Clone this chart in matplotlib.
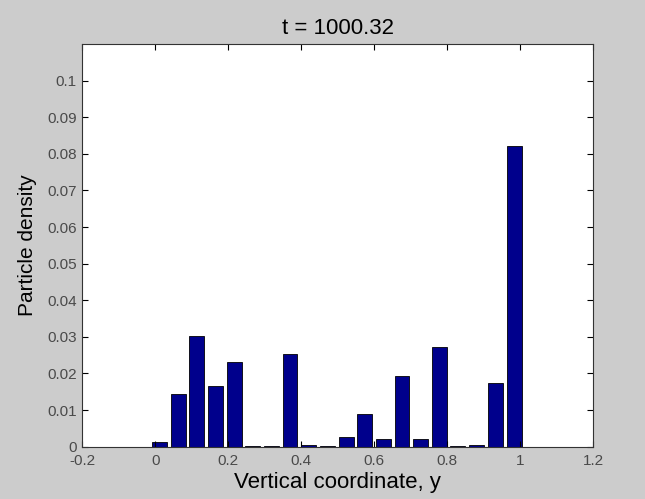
import matplotlib
matplotlib.use("Agg")
import matplotlib.pyplot as plt
import numpy as np

# bin centres along the vertical coordinate and the density in each bin
bin_centers = [0.012, 0.063, 0.114, 0.165, 0.216, 0.267, 0.318, 0.369, 0.420, 0.471,
               0.523, 0.574, 0.625, 0.676, 0.727, 0.778, 0.829, 0.880, 0.931, 0.983]
density = [0.0012, 0.0144, 0.0303, 0.0167, 0.0231, 0.0002, 0.0002, 0.0253, 0.0005, 0.0002,
           0.0026, 0.0090, 0.0022, 0.0193, 0.0022, 0.0273, 0.0002, 0.0005, 0.0174, 0.0821]

x_ticks = [-0.2, 0, 0.2, 0.4, 0.6, 0.8, 1, 1.2]
x_tick_labels = ["-0.2", "0", "0.2", "0.4", "0.6", "0.8", "1", "1.2"]
y_ticks = [0, 0.01, 0.02, 0.03, 0.04, 0.05, 0.06, 0.07, 0.08, 0.09, 0.1]
y_tick_labels = ["0", "0.01", "0.02", "0.03", "0.04", "0.05", "0.06", "0.07", "0.08", "0.09", "0.1"]

plt.rcParams['font.family'] = ['Liberation Sans', 'DejaVu Sans']

fig = plt.figure(figsize=(6.45, 4.99), dpi=100, facecolor='#cccccc')
ax = fig.add_axes([0.1276, 0.1048, 0.7922, 0.807])
ax.set_facecolor('white')

step = bin_centers[1] - bin_centers[0]
ax.bar(bin_centers, density, width=0.8 * step, color='#00008c',
       edgecolor='black', linewidth=0.6)

ax.set_xlim(-0.2, 1.2)
ax.set_ylim(0, 0.11)
ax.set_xticks(x_ticks)
ax.set_xticklabels(x_tick_labels)
ax.set_yticks(y_ticks)
ax.set_yticklabels(y_tick_labels)
ax.tick_params(direction='in', top=True, right=True, length=4, width=0.8,
               labelsize=11, labelcolor='#4a4a4a', pad=4)
ax.tick_params(axis='x', pad=5)
for s in ax.spines.values():
    s.set_linewidth(0.8)
    s.set_color('#333333')

ax.set_title('t = 1000.32', fontsize=16, pad=7)
ax.set_xlabel('Vertical coordinate, y', fontsize=16, labelpad=3)
ax.set_ylabel('Particle density', fontsize=15, labelpad=7)

fig.savefig('out.png', dpi=100, facecolor=fig.get_facecolor())
